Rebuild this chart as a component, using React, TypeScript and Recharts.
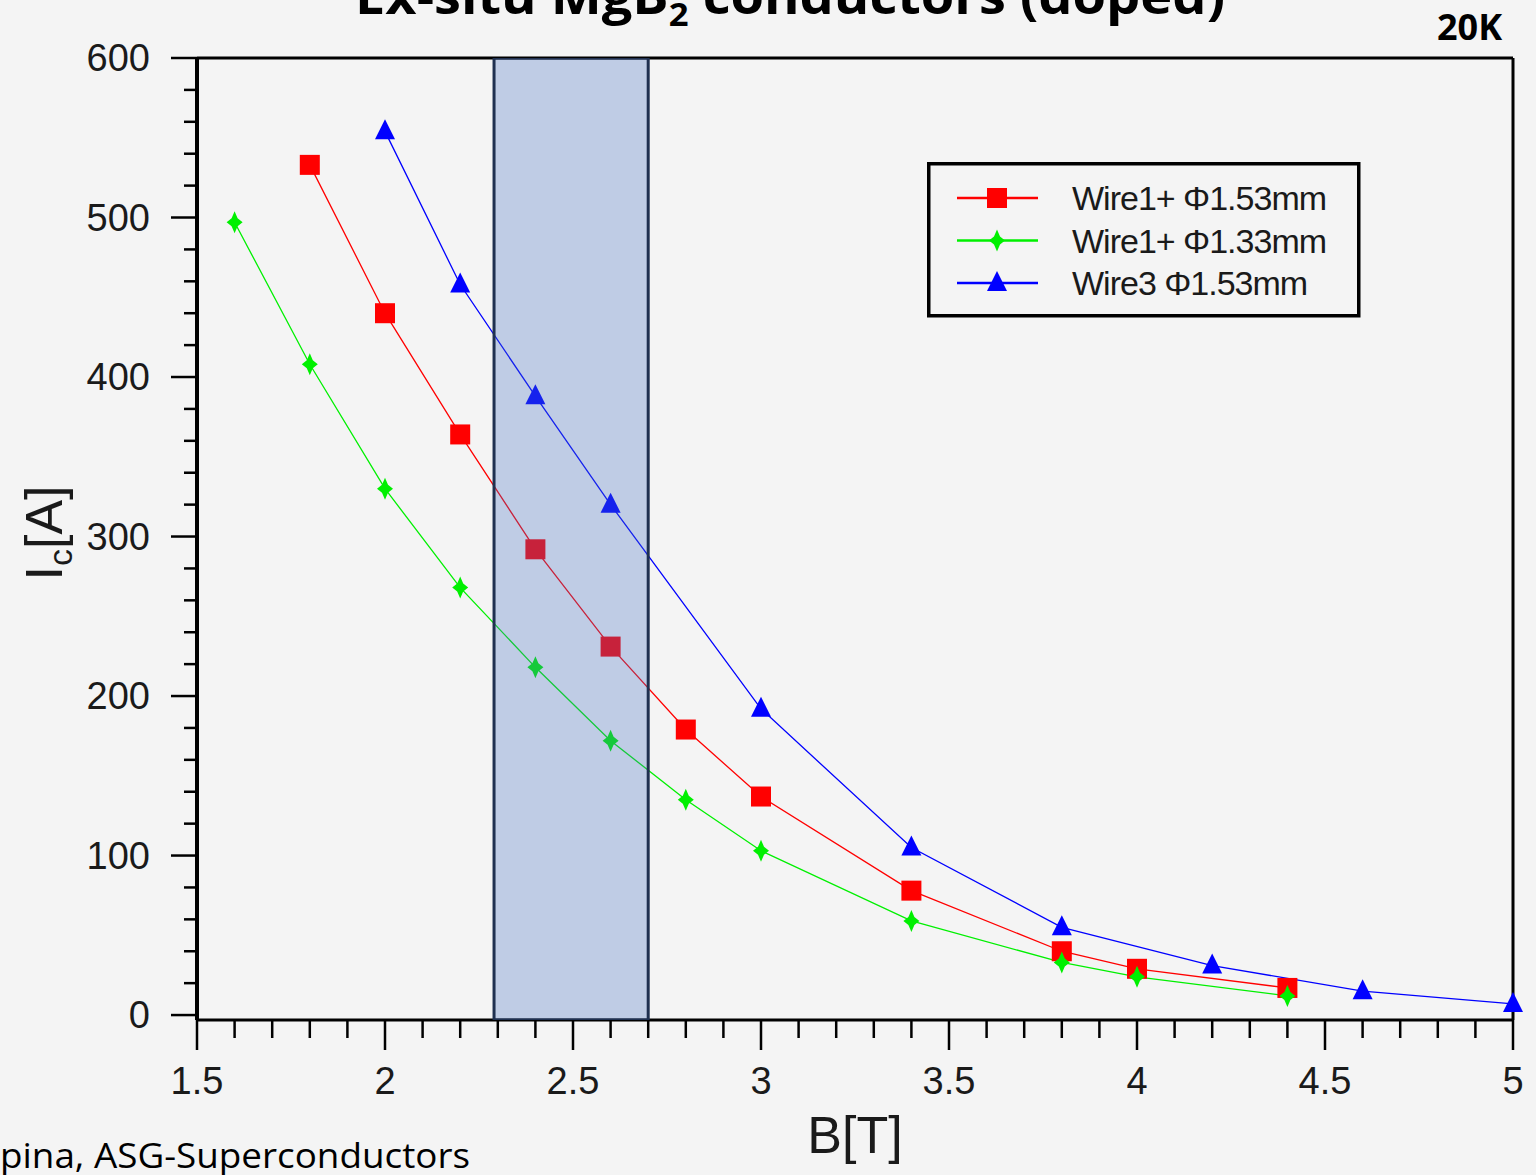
import React from "react";
import {
  ComposedChart,
  Line,
  XAxis,
  YAxis,
  ReferenceArea,
  Legend,
} from "recharts";

// B [T] and Ic [A]
const WIRE1_153_B = [1.8, 2, 2.2, 2.4, 2.6, 2.8, 3, 3.4, 3.8, 4, 4.4];
const WIRE1_153_IC = [533, 440, 364, 292, 231, 179, 137, 78, 40, 29, 17];
const WIRE1_133_B = [1.6, 1.8, 2, 2.2, 2.4, 2.6, 2.8, 3, 3.4, 3.8, 4, 4.4];
const WIRE1_133_IC = [497, 408, 330, 268, 218, 172, 135, 103, 59, 33, 24, 12];
const WIRE3_153_B = [2, 2.2, 2.4, 2.6, 3, 3.4, 3.8, 4.2, 4.6, 5];
const WIRE3_153_IC = [554, 458, 388, 320, 192, 105, 55, 31, 15, 7];

const SERIES_NAMES = ["Wire1+ Φ1.53mm", "Wire1+ Φ1.33mm", "Wire3 Φ1.53mm"];
const SERIES_COLORS = ["#ff0000", "#00f000", "#0000ff"];

const HIGHLIGHT_B = [2.29, 2.7];

const X_MAJOR = [1.5, 2, 2.5, 3, 3.5, 4, 4.5, 5];
const X_TICKS = [
  1.5, 1.6, 1.7, 1.8, 1.9, 2, 2.1, 2.2, 2.3, 2.4, 2.5, 2.6, 2.7, 2.8, 2.9, 3,
  3.1, 3.2, 3.3, 3.4, 3.5, 3.6, 3.7, 3.8, 3.9, 4, 4.1, 4.2, 4.3, 4.4, 4.5, 4.6,
  4.7, 4.8, 4.9, 5,
];
const Y_MAJOR = [0, 100, 200, 300, 400, 500, 600];
const Y_TICKS = [
  0, 20, 40, 60, 80, 100, 120, 140, 160, 180, 200, 220, 240, 260, 280, 300, 320,
  340, 360, 380, 400, 420, 440, 460, 480, 500, 520, 540, 560, 580, 600,
];

const toRows = (bs: number[], ics: number[]) =>
  bs.map((b, i) => ({ b, ic: ics[i] }));

const FONT = "'Liberation Sans', Arial, sans-serif";
const isIn = (list: number[], v: number) =>
  list.some((m) => Math.abs(m - v) < 1e-6);

const BottomTick = (props: any) => {
  const { x, y, payload } = props;
  const major = isIn(X_MAJOR, payload.value);
  return (
    <g>
      <line x1={x} x2={x} y1={y} y2={y + (major ? 30 : 18)} stroke="#000" strokeWidth={2.5} />
      {major && (
        <text x={x} y={y + 74} textAnchor="middle" fontSize={38} fontFamily={FONT} fill="#1a1a1a">
          {String(payload.value)}
        </text>
      )}
    </g>
  );
};

const TopTick = (props: any) => {
  const { x, y, payload } = props;
  const major = isIn(X_MAJOR, payload.value);
  return <line x1={x} x2={x} y1={y} y2={y + (major ? 22 : 12)} stroke="#000" strokeWidth={2.5} />;
};

const LeftTick = (props: any) => {
  const { x, y, payload } = props;
  const major = isIn(Y_MAJOR, payload.value);
  return (
    <g>
      <line x1={x} x2={x - (major ? 26 : 13)} y1={y} y2={y} stroke="#000" strokeWidth={2.5} />
      {major && (
        <text x={x - 47} y={y + 13} textAnchor="end" fontSize={38} fontFamily={FONT} fill="#1a1a1a">
          {String(payload.value)}
        </text>
      )}
    </g>
  );
};

const RightTick = (props: any) => {
  const { x, y, payload } = props;
  const major = isIn(Y_MAJOR, payload.value);
  return <line x1={x} x2={x - (major ? 22 : 12)} y1={y} y2={y} stroke="#000" strokeWidth={2.5} />;
};

const Marker = ({ kind, cx, cy, color }: { kind: number; cx: number; cy: number; color: string }) => {
  if (kind === 0) return <rect x={cx - 10} y={cy - 10} width={20} height={20} fill={color} />;
  if (kind === 1)
    return (
      <polygon
        points={`${cx},${cy - 11} ${cx + 3},${cy - 4} ${cx + 8},${cy} ${cx + 3},${cy + 4} ${cx},${cy + 11} ${cx - 3},${cy + 4} ${cx - 8},${cy} ${cx - 3},${cy - 4}`}
        fill={color}
      />
    );
  return (
    <polygon
      points={`${cx},${cy - 12} ${cx + 10},${cy + 8} ${cx - 10},${cy + 8}`}
      fill={color}
    />
  );
};

const dotFor = (kind: number) => (p: any) => {
  if (p.cx == null || p.cy == null) return <g key={`${kind}-${p.index}`} />;
  return (
    <g key={`${kind}-${p.index}`}>
      <Marker kind={kind} cx={p.cx} cy={p.cy} color={SERIES_COLORS[kind]} />
    </g>
  );
};

const renderLegend = (props: any) => {
  const payload = [...(props.payload || [])].sort(
    (a: any, b: any) => SERIES_NAMES.indexOf(a.value) - SERIES_NAMES.indexOf(b.value)
  );
  return (
    <svg width={434} height={156} style={{ display: "block" }}>
      <rect x={1.75} y={1.75} width={430} height={152} fill="#f4f4f4" stroke="#000" strokeWidth={3.5} />
      {payload.map((entry: any, i: number) => {
        const kind = SERIES_NAMES.indexOf(entry.value);
        const cy = 36 + i * 42.5;
        return (
          <g key={entry.value}>
            <line x1={30} x2={111} y1={cy} y2={cy} stroke={SERIES_COLORS[kind]} strokeWidth={2.5} />
            <Marker kind={kind} cx={70} cy={cy} color={SERIES_COLORS[kind]} />
            <text x={145} y={cy + 12} fontSize={34} letterSpacing={-1} fontFamily={FONT} fill="#1a1a1a">
              {entry.value}
            </text>
          </g>
        );
      })}
    </svg>
  );
};

const YLabel = () => (
  <g transform="translate(62,533) rotate(-90)">
    <text x={0} y={0} textAnchor="middle" fontSize={52} fontFamily={FONT} fill="#1a1a1a">
      I
      <tspan fontSize={34} dy={10}>c</tspan>
      <tspan dy={-10}>[A]</tspan>
    </text>
  </g>
);

export default function App() {
  const series = [
    toRows(WIRE1_153_B, WIRE1_153_IC),
    toRows(WIRE1_133_B, WIRE1_133_IC),
    toRows(WIRE3_153_B, WIRE3_153_IC),
  ];

  return (
    <div
      style={{
        position: "absolute",
        left: 0,
        top: 0,
        width: 1536,
        height: 1175,
        background: "#f4f4f4",
        overflow: "hidden",
      }}
    >
      <ComposedChart
        width={1536}
        height={1175}
        margin={{ top: 57, right: 22, bottom: 0, left: 0 }}
      >
        <XAxis
          dataKey="b"
          type="number"
          domain={[1.5, 5]}
          ticks={X_TICKS}
          interval={0}
          height={155}
          tickSize={0}
          tickMargin={0}
          tickLine={false}
          tick={<BottomTick />}
          axisLine={{ stroke: "#000", strokeWidth: 3 }}
          allowDuplicatedCategory={false}
          label={{
            value: "B[T]",
            position: "insideBottom",
            offset: 22,
            fontSize: 52,
            fontFamily: FONT,
            fill: "#1a1a1a",
          }}
        />
        <XAxis
          xAxisId="top"
          orientation="top"
          type="number"
          domain={[1.5, 5]}
          ticks={X_TICKS}
          interval={0}
          height={1}
          tickSize={0}
          tickMargin={0}
          tickLine={false}
          tick={<TopTick />}
          axisLine={{ stroke: "#000", strokeWidth: 3 }}
        />
        <YAxis
          type="number"
          domain={[-3.1, 600]}
          ticks={Y_TICKS}
          interval={0}
          width={197}
          tickSize={0}
          tickMargin={0}
          tickLine={false}
          tick={<LeftTick />}
          axisLine={{ stroke: "#000", strokeWidth: 4 }}
          label={{ content: () => <YLabel /> }}
        />
        <YAxis
          yAxisId="right"
          orientation="right"
          type="number"
          domain={[-3.1, 600]}
          ticks={Y_TICKS}
          interval={0}
          width={1}
          tickSize={0}
          tickMargin={0}
          tickLine={false}
          tick={<RightTick />}
          axisLine={{ stroke: "#000", strokeWidth: 3 }}
        />
        <Legend
          layout="vertical"
          align="center"
          verticalAlign="middle"
          content={renderLegend}
          wrapperStyle={{ left: 927, top: 162, width: 434, height: 156 }}
        />
        {series.map((rows, i) => (
          <Line
            key={SERIES_NAMES[i]}
            data={rows}
            dataKey="ic"
            name={SERIES_NAMES[i]}
            type="linear"
            stroke={SERIES_COLORS[i]}
            strokeWidth={1.3}
            dot={dotFor(i)}
            activeDot={false}
            isAnimationActive={false}
          />
        ))}
        <ReferenceArea
          x1={HIGHLIGHT_B[0]}
          x2={HIGHLIGHT_B[1]}
          fill="#4472c4"
          fillOpacity={0.3}
          stroke="#1f3050"
          strokeWidth={3}
          ifOverflow="hidden"
          zIndex={2000}
        />
      </ComposedChart>
      <svg
        width={1536}
        height={1175}
        style={{ position: "absolute", left: 0, top: 0, pointerEvents: "none" }}
      >
        <text
          x={355}
          y={14}
          fontSize={50}
          fontWeight={700}
          fontFamily="'Open Sans', sans-serif"
          fill="#000"
          textLength={870}
          lengthAdjust="spacingAndGlyphs"
        >
          Ex-situ MgB<tspan fontSize={32} dy={12}>2</tspan>
          <tspan dy={-12}> conductors (doped)</tspan>
        </text>
        <text x={1437} y={40} fontSize={36} fontWeight={700} fontFamily="'Open Sans', sans-serif" fill="#000">
          20K
        </text>
        <text
          x={0}
          y={1168}
          fontSize={35}
          fontFamily="'Open Sans', sans-serif"
          fill="#000"
          textLength={470}
          lengthAdjust="spacingAndGlyphs"
        >
          pina, ASG-Superconductors
        </text>
      </svg>
    </div>
  );
}
